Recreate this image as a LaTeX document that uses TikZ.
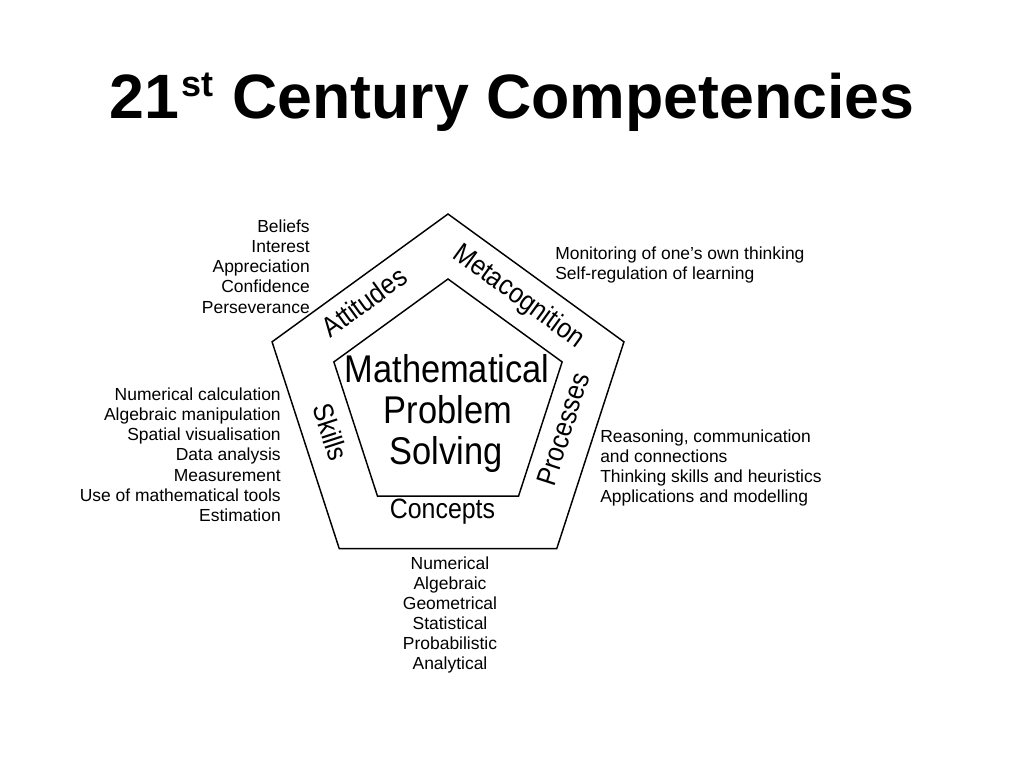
\documentclass[tikz,border=0pt]{standalone}
\usepackage{fontspec}
\setmainfont{Liberation Sans}
\newfontfamily\narrowf[FakeStretch=0.89]{Liberation Sans}
\usetikzlibrary{shapes.geometric}
\begin{document}
\begin{tikzpicture}[x=0.75pt,y=-0.75pt,
  pent/.style={draw, line width=1.1pt, regular polygon, regular polygon sides=5, inner sep=0pt, outer sep=0pt},
  small/.style={inner sep=0pt, font=\fontsize{13.1}{15}\selectfont},
  band/.style={inner sep=0pt, anchor=base, font=\narrowf\fontsize{21}{24}\selectfont},
  core/.style={inner sep=0pt, anchor=base, font=\narrowf\fontsize{29}{32}\selectfont}]
\fill[white] (0,0) rectangle (1024,768);
\useasboundingbox (0,0) rectangle (1024,768);

% title
\node[anchor=base west, inner sep=0pt, font=\fontsize{47}{50}\selectfont\bfseries] (title) at (109,118)
  {21\kern2pt\raisebox{16pt}{\fontsize{27}{27}\selectfont st}\kern0.8pt{} Century Competencies};

% pentagons
\node[pent, minimum size=277.5pt] (outer) at (448,399) {};
\node[pent, minimum size=180pt] (inner) at (448,399) {};

% core text
\node[core] (m1) at (447,382) {Mathematical};
\node[core] (m2) at (448,423) {Problem};
\node[core] (m3) at (446,464) {Solving};

% band labels
\node[band, rotate=36] (attl) at (370,310) {Attitudes};
\node[band, rotate=-36] (metal) at (514,303) {Metacognition};
\node[band, rotate=-72] (skl) at (321,435) {Skills};
\node[band, rotate=72] (prl) at (572,432) {Processes};
\node[band] (conl) at (442.5,518) {Concepts};

% lists
\foreach \t [count=\i from 0] in {Beliefs,Interest,Appreciation,Confidence,Perseverance}
  \node[small, anchor=base east] (att\i) at (310,{232+20.25*\i}) {\t};
\foreach \t [count=\i from 0] in {Numerical calculation,Algebraic manipulation,Spatial visualisation,Data analysis,Measurement,Use of mathematical tools,Estimation}
  \node[small, anchor=base east] (sk\i) at (281,{400+20.3*\i}) {\t};
\foreach \t [count=\i from 0] in {Monitoring of one’s own thinking,Self-regulation of learning}
  \node[small, anchor=base west] (me\i) at (555,{259+20*\i}) {\t};
\foreach \t [count=\i from 0] in {{Reasoning, communication},and connections,Thinking skills and heuristics,Applications and modelling}
  \node[small, anchor=base west] (pr\i) at (600,{442+20*\i}) {\t};
\foreach \t [count=\i from 0] in {Numerical,Algebraic,Geometrical,Statistical,Probabilistic,Analytical}
  \node[small, anchor=base] (co\i) at (450,{569+20*\i}) {\t};
\end{tikzpicture}
\end{document}
